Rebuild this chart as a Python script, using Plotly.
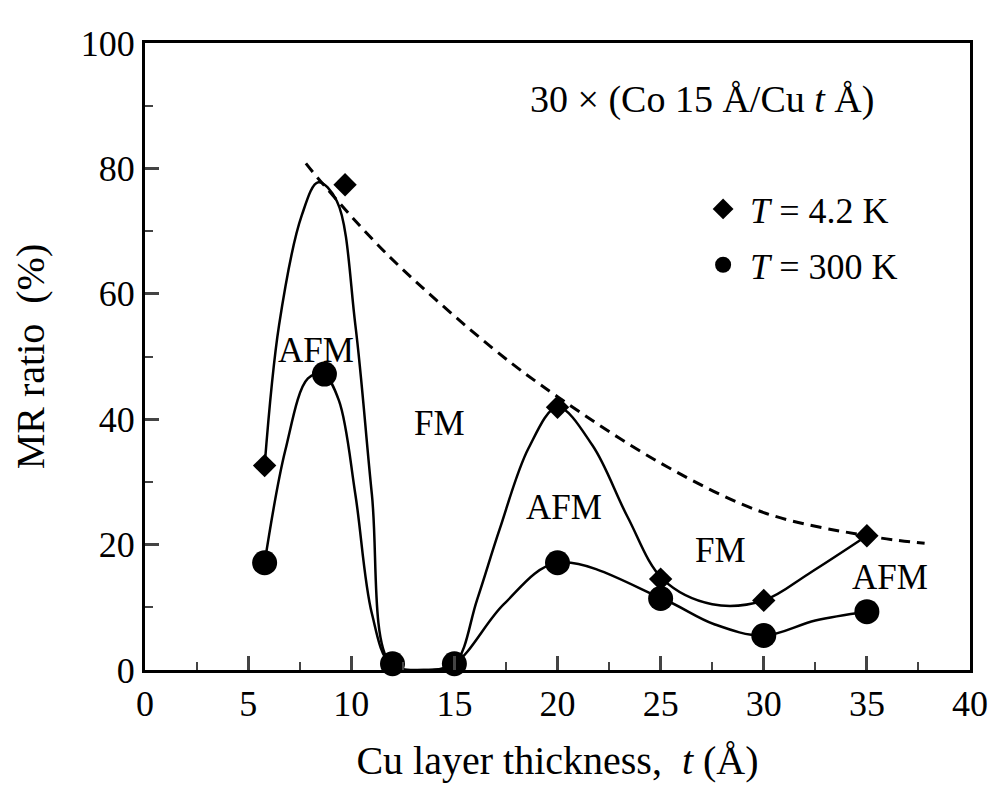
import plotly.graph_objects as go

# ---- data ----
# measured points, T = 4.2 K (diamonds)
t_42K = [5.8, 9.7, 12, 15, 20, 25, 30, 35]
mr_42K = [32.6, 77.4, 1.0, 1.0, 41.9, 14.5, 11.1, 21.4]
# measured points, T = 300 K (circles)
t_300K = [5.8, 8.7, 12, 15, 20, 25, 30, 35]
mr_300K = [17.1, 47.2, 1.0, 1.0, 17.1, 11.4, 5.5, 9.3]

# hand-drawn guide curves
guide_42K_t = [5.8, 6.5, 7.6, 8.4, 9.3, 10.2, 11.0, 11.9,
               13.5, 15.0, 16.1, 17.2, 18.6, 20.0, 21.7, 23.4, 25.1,
               27.5, 30.0, 32.2, 35.0]
guide_42K_mr = [32.6, 55.0, 72.5, 77.8, 74.8, 55.0, 28.0, 1.0,
                0.0, 1.0, 11.2, 22.5, 35.4, 41.9, 35.8, 24.4, 14.5,
                10.5, 11.1, 15.4, 21.4]
guide_300K_t = [5.8, 6.8, 7.9, 8.65, 9.4, 10.2, 11.0, 11.9, 13.5,
                15.0, 17.4, 20.0, 25.07, 27.6, 30.0, 32.5, 35.0]
guide_300K_mr = [17.1, 35.0, 46.5, 47.2, 43.0, 28.0, 9.0, 1.0, 0.0,
                 1.0, 10.5, 17.1, 11.4, 7.3, 5.5, 7.9, 9.3]
# dashed envelope
env_t = [7.8, 8.5, 11.8, 16.9, 20.0, 25.0, 30.0, 35.0, 37.8]
env_mr = [80.8, 78.0, 66.1, 51.2, 43.6, 33.0, 25.1, 21.4, 20.2]

# region labels
region_labels = ["AFM", "FM", "AFM", "FM", "AFM"]
region_t = [8.3, 14.3, 20.3, 27.9, 36.1]
region_mr = [51.0, 39.3, 25.9, 19.0, 14.7]

x_ticks = [0, 5, 10, 15, 20, 25, 30, 35, 40]
y_ticks = [0, 20, 40, 60, 80, 100]

FONT = "Liberation Serif, Times New Roman, serif"

fig = go.Figure()

fig.add_trace(go.Scatter(x=env_t, y=env_mr, mode="lines", line_shape="spline",
                         line=dict(color="black", width=3, dash="11px,7px"),
                         showlegend=False, hoverinfo="skip"))
fig.add_trace(go.Scatter(x=guide_42K_t, y=guide_42K_mr, mode="lines", line_shape="spline",
                         line=dict(color="black", width=2.5),
                         showlegend=False, hoverinfo="skip"))
fig.add_trace(go.Scatter(x=guide_300K_t, y=guide_300K_mr, mode="lines", line_shape="spline",
                         line=dict(color="black", width=2.5),
                         showlegend=False, hoverinfo="skip"))
fig.add_trace(go.Scatter(x=t_42K, y=mr_42K, mode="markers", name="<i>T</i> = 4.2 K",
                         legendgroup="a",
                         marker=dict(symbol="diamond", size=18, color="black"),
                         cliponaxis=False))
fig.add_trace(go.Scatter(x=t_300K, y=mr_300K, mode="markers", name="<i>T</i> = 300 K",
                         legendgroup="b",
                         marker=dict(symbol="circle", size=25, color="black"),
                         cliponaxis=False))

for lab, tx, ty in zip(region_labels, region_t, region_mr):
    fig.add_annotation(x=tx, y=ty, text=lab, showarrow=False,
                       font=dict(family=FONT, size=35, color="black"))

fig.add_annotation(x=27.0, y=91.0, text="30 × (Co 15 Å/Cu <i>t</i> Å)", showarrow=False,
                   font=dict(family=FONT, size=38, color="black"))

fig.update_layout(
    width=982, height=775,
    margin=dict(l=137, r=20, t=35, b=113),
    paper_bgcolor="white", plot_bgcolor="white",
    font=dict(family=FONT, size=36, color="black"),
    legend=dict(x=0.668, y=0.783, xanchor="left", yanchor="top",
                bgcolor="rgba(0,0,0,0)", font=dict(family=FONT, size=36),
                tracegroupgap=6, itemwidth=44),
    xaxis=dict(range=[0, 40], tickvals=x_ticks, ticks="inside", ticklen=14, tickwidth=2.5,
               showline=True, linewidth=3, linecolor="black", mirror=True,
               showgrid=False, zeroline=False, automargin=False,
               tickfont=dict(family=FONT, size=36),
               minor=dict(dtick=2.5, ticks="inside", ticklen=8, tickwidth=2),
               title=dict(text="Cu layer thickness,  <i>t</i> (Å)",
                          font=dict(family=FONT, size=40), standoff=24)),
    yaxis=dict(range=[0, 100], tickvals=y_ticks, ticks="inside", ticklen=14, tickwidth=2.5,
               showline=True, linewidth=3, linecolor="black", mirror=True,
               showgrid=False, zeroline=False, automargin=False,
               tickfont=dict(family=FONT, size=36),
               minor=dict(dtick=10, ticks="inside", ticklen=8, tickwidth=2),
               title=dict(text="MR ratio  (%)",
                          font=dict(family=FONT, size=40), standoff=25)),
)

fig.write_html("out.html")
